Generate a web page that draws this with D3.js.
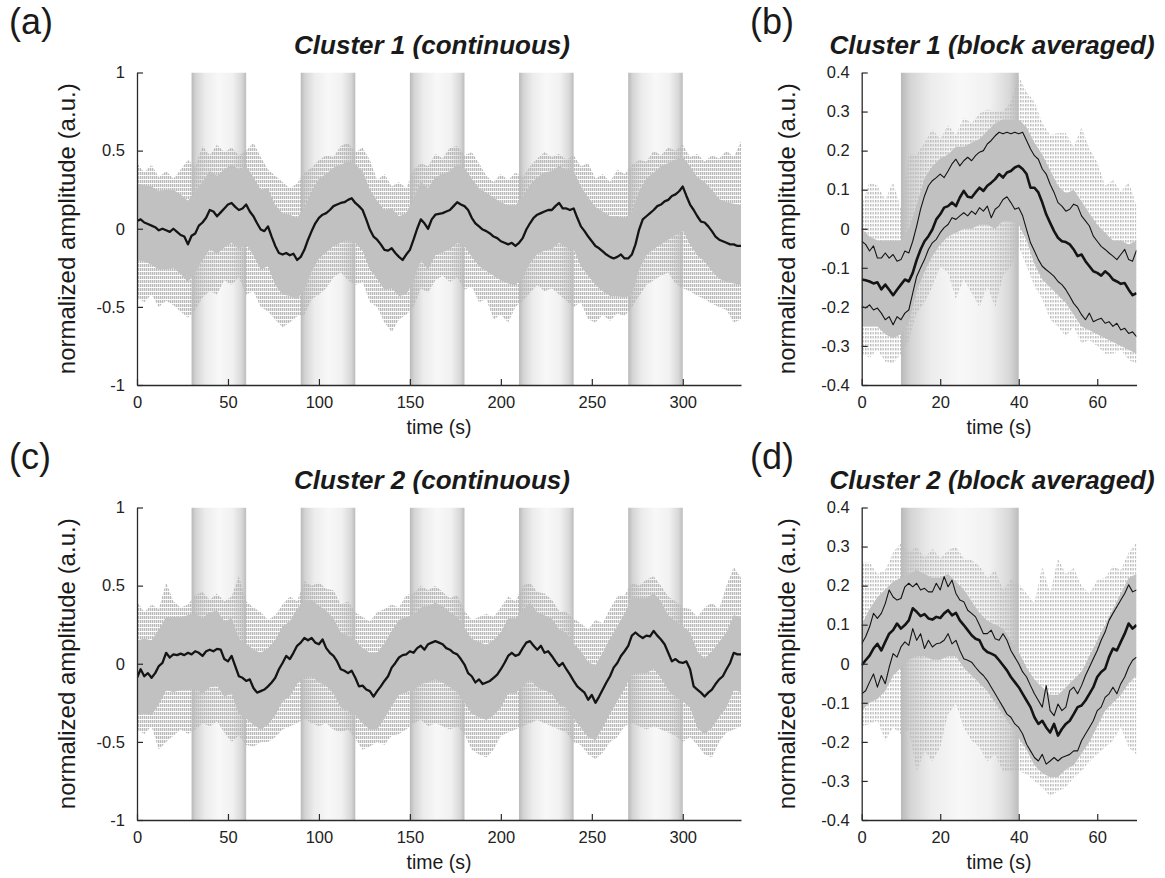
<!DOCTYPE html>
<html>
<head>
<meta charset="utf-8">
<script src="https://cdn.jsdelivr.net/npm/d3@7"></script>
<style>
  body { margin: 0; background: #fff; }
  text { font-family: "Liberation Sans", Arial, Helvetica, sans-serif; }
</style>
</head>
<body>
<div id="chart"></div>
<script>
// ---- continuous panels: mean trace every 2 s, envelopes of the single traces every 4 s ----
const meanA = [
  0.05, 0.06, 0.04, 0.03, 0.02, 0.01, -0.01, 0.0, -0.01, -0.02,
  0.0, -0.02, -0.04, -0.05, -0.1, -0.045, -0.03, 0.02, 0.04, 0.07,
  0.12, 0.11, 0.08, 0.105, 0.13, 0.155, 0.165, 0.14, 0.12, 0.13,
  0.155, 0.11, 0.08, 0.035, -0.005, -0.015, 0.015, -0.05, -0.11, -0.155,
  -0.165, -0.155, -0.17, -0.16, -0.2, -0.18, -0.135, -0.07, -0.015, 0.035,
  0.07, 0.09, 0.1, 0.12, 0.145, 0.155, 0.165, 0.17, 0.185, 0.195,
  0.165, 0.145, 0.12, 0.06, -0.005, -0.05, -0.07, -0.1, -0.135, -0.14,
  -0.125, -0.155, -0.18, -0.2, -0.165, -0.135, -0.07, 0.0, 0.06, 0.035,
  0.0, 0.06, 0.09, 0.095, 0.1, 0.11, 0.12, 0.145, 0.17, 0.155,
  0.145, 0.12, 0.07, 0.035, 0.015, -0.005, -0.015, -0.03, -0.05, -0.06,
  -0.08, -0.09, -0.1, -0.09, -0.11, -0.09, -0.06, -0.005, 0.035, 0.07,
  0.09, 0.1, 0.11, 0.12, 0.12, 0.145, 0.165, 0.13, 0.13, 0.12,
  0.13, 0.07, 0.015, -0.015, -0.05, -0.08, -0.11, -0.125, -0.145, -0.165,
  -0.18, -0.19, -0.18, -0.165, -0.19, -0.19, -0.165, -0.1, -0.005, 0.06,
  0.08, 0.1, 0.12, 0.145, 0.155, 0.175, 0.185, 0.21, 0.22, 0.24,
  0.27, 0.21, 0.155, 0.12, 0.08, 0.045, 0.04, 0.015, -0.015, -0.05,
  -0.07, -0.08, -0.09, -0.1, -0.1, -0.11, -0.11
];
const denseHiA = [
  0.29, 0.28, 0.27, 0.24, 0.25, 0.25, 0.22, 0.18, 0.24, 0.30,
  0.37, 0.34, 0.38, 0.41, 0.38, 0.40, 0.33, 0.25, 0.26, 0.15,
  0.10, 0.09, 0.07, 0.13, 0.24, 0.32, 0.35, 0.39, 0.41, 0.43,
  0.41, 0.37, 0.25, 0.18, 0.12, 0.13, 0.08, 0.10, 0.19, 0.30,
  0.26, 0.33, 0.35, 0.37, 0.41, 0.39, 0.32, 0.26, 0.23, 0.20,
  0.17, 0.15, 0.15, 0.20, 0.28, 0.33, 0.36, 0.37, 0.40, 0.38,
  0.37, 0.27, 0.20, 0.14, 0.11, 0.08, 0.08, 0.07, 0.10, 0.24,
  0.32, 0.36, 0.40, 0.42, 0.44, 0.46, 0.40, 0.33, 0.30, 0.25,
  0.19, 0.17, 0.16, 0.15
];
const denseLoA = [
  -0.20, -0.21, -0.23, -0.26, -0.26, -0.25, -0.29, -0.34, -0.28, -0.20,
  -0.13, -0.16, -0.12, -0.09, -0.13, -0.10, -0.17, -0.26, -0.24, -0.36,
  -0.42, -0.43, -0.45, -0.39, -0.27, -0.19, -0.15, -0.11, -0.09, -0.07,
  -0.09, -0.14, -0.26, -0.32, -0.39, -0.38, -0.43, -0.42, -0.33, -0.20,
  -0.26, -0.17, -0.15, -0.13, -0.09, -0.11, -0.18, -0.24, -0.27, -0.30,
  -0.33, -0.35, -0.36, -0.31, -0.22, -0.16, -0.14, -0.13, -0.09, -0.12,
  -0.13, -0.24, -0.30, -0.36, -0.40, -0.43, -0.43, -0.44, -0.42, -0.26,
  -0.17, -0.13, -0.10, -0.07, -0.04, -0.01, -0.10, -0.17, -0.21, -0.27,
  -0.32, -0.34, -0.35, -0.36
];
const spikeHiA = [
  0.42, 0.36, 0.41, 0.33, 0.37, 0.32, 0.38, 0.44, 0.40, 0.53,
  0.47, 0.54, 0.49, 0.52, 0.47, 0.50, 0.55, 0.46, 0.38, 0.34,
  0.30, 0.26, 0.29, 0.36, 0.39, 0.44, 0.47, 0.46, 0.53, 0.55,
  0.49, 0.52, 0.44, 0.31, 0.35, 0.27, 0.30, 0.26, 0.38, 0.42,
  0.40, 0.48, 0.45, 0.52, 0.53, 0.47, 0.49, 0.42, 0.34, 0.30,
  0.35, 0.31, 0.36, 0.33, 0.40, 0.45, 0.49, 0.46, 0.48, 0.44,
  0.47, 0.40, 0.42, 0.32, 0.35, 0.30, 0.38, 0.35, 0.41, 0.44,
  0.43, 0.50, 0.47, 0.52, 0.50, 0.54, 0.46, 0.48, 0.43, 0.47,
  0.45, 0.50, 0.46, 0.56
];
const spikeLoA = [
  -0.44, -0.47, -0.42, -0.50, -0.46, -0.49, -0.53, -0.57, -0.52, -0.44,
  -0.40, -0.42, -0.33, -0.36, -0.31, -0.42, -0.40, -0.50, -0.53, -0.58,
  -0.63, -0.60, -0.56, -0.55, -0.45, -0.42, -0.38, -0.31, -0.28, -0.33,
  -0.36, -0.34, -0.47, -0.50, -0.60, -0.66, -0.58, -0.55, -0.50, -0.38,
  -0.41, -0.33, -0.30, -0.34, -0.31, -0.39, -0.37, -0.47, -0.45, -0.58,
  -0.55, -0.60, -0.50, -0.46, -0.41, -0.36, -0.40, -0.38, -0.42, -0.46,
  -0.50, -0.47, -0.58, -0.60, -0.55, -0.59, -0.54, -0.56, -0.50, -0.43,
  -0.36, -0.33, -0.30, -0.28, -0.35, -0.38, -0.40, -0.43, -0.45, -0.48,
  -0.50, -0.52, -0.60, -0.58
];

const meanC = [
  -0.09, -0.035, -0.08, -0.06, -0.09, -0.06, -0.015, 0.005, 0.07, 0.04,
  0.06, 0.055, 0.065, 0.055, 0.07, 0.06, 0.08, 0.07, 0.05, 0.08,
  0.09, 0.08, 0.095, 0.09, 0.03, 0.015, 0.05, -0.015, -0.08, -0.09,
  -0.11, -0.1, -0.155, -0.185, -0.175, -0.165, -0.145, -0.12, -0.09, -0.035,
  0.005, 0.05, 0.03, 0.07, 0.115, 0.135, 0.165, 0.15, 0.165, 0.135,
  0.125, 0.155, 0.1, 0.07, 0.05, 0.015, -0.035, -0.045, -0.06, -0.045,
  -0.09, -0.145, -0.14, -0.165, -0.175, -0.21, -0.175, -0.145, -0.11, -0.08,
  -0.025, 0.005, 0.04, 0.055, 0.06, 0.08, 0.07, 0.1, 0.115, 0.09,
  0.125, 0.135, 0.145, 0.135, 0.125, 0.1, 0.09, 0.07, 0.06, 0.03,
  -0.005, -0.06, -0.08, -0.12, -0.1, -0.13, -0.12, -0.11, -0.09, -0.07,
  -0.035, 0.005, 0.05, 0.07, 0.05, 0.06, 0.1, 0.135, 0.145, 0.115,
  0.09, 0.115, 0.07, 0.08, 0.05, 0.015, -0.015, 0.005, -0.035, -0.07,
  -0.11, -0.145, -0.165, -0.185, -0.23, -0.2, -0.25, -0.21, -0.165, -0.12,
  -0.08, -0.025, 0.005, 0.05, 0.08, 0.115, 0.18, 0.2, 0.18, 0.165,
  0.18, 0.175, 0.21, 0.18, 0.155, 0.125, 0.07, 0.015, 0.03, 0.01,
  0.005, 0.015, -0.035, -0.145, -0.165, -0.185, -0.21, -0.185, -0.165, -0.13,
  -0.1, -0.08, -0.035, 0.005, 0.07, 0.06, 0.06
];
const denseHiC = [
  0.15, 0.16, 0.15, 0.22, 0.30, 0.30, 0.30, 0.31, 0.32, 0.29,
  0.33, 0.34, 0.27, 0.29, 0.16, 0.13, 0.09, 0.07, 0.10, 0.15,
  0.24, 0.27, 0.35, 0.40, 0.41, 0.37, 0.34, 0.29, 0.20, 0.18,
  0.15, 0.10, 0.07, 0.07, 0.13, 0.21, 0.28, 0.30, 0.31, 0.36,
  0.37, 0.39, 0.37, 0.33, 0.30, 0.23, 0.16, 0.14, 0.12, 0.15,
  0.20, 0.29, 0.29, 0.34, 0.39, 0.33, 0.31, 0.29, 0.22, 0.20,
  0.13, 0.08, 0.01, -0.01, 0.07, 0.16, 0.24, 0.32, 0.42, 0.42,
  0.42, 0.45, 0.40, 0.31, 0.27, 0.24, 0.20, 0.08, 0.03, 0.08,
  0.14, 0.20, 0.31, 0.30
];
const denseLoC = [
  -0.33, -0.32, -0.33, -0.26, -0.17, -0.18, -0.17, -0.17, -0.16, -0.19,
  -0.15, -0.14, -0.21, -0.19, -0.32, -0.35, -0.39, -0.42, -0.39, -0.33,
  -0.24, -0.21, -0.13, -0.08, -0.08, -0.12, -0.14, -0.19, -0.28, -0.30,
  -0.33, -0.38, -0.42, -0.42, -0.35, -0.27, -0.20, -0.18, -0.17, -0.13,
  -0.12, -0.10, -0.12, -0.15, -0.18, -0.25, -0.32, -0.34, -0.36, -0.33,
  -0.28, -0.19, -0.19, -0.14, -0.10, -0.15, -0.17, -0.19, -0.26, -0.28,
  -0.35, -0.41, -0.47, -0.49, -0.41, -0.32, -0.24, -0.16, -0.06, -0.06,
  -0.06, -0.03, -0.09, -0.17, -0.21, -0.24, -0.28, -0.41, -0.45, -0.41,
  -0.34, -0.28, -0.17, -0.18
];
const spikeHiC = [
  0.40, 0.33, 0.38, 0.35, 0.52, 0.40, 0.36, 0.38, 0.44, 0.46,
  0.41, 0.45, 0.40, 0.43, 0.56, 0.40, 0.36, 0.33, 0.28, 0.31,
  0.38, 0.43, 0.40, 0.53, 0.50, 0.52, 0.48, 0.47, 0.38, 0.40,
  0.33, 0.30, 0.27, 0.33, 0.35, 0.38, 0.36, 0.44, 0.45, 0.50,
  0.47, 0.50, 0.46, 0.42, 0.44, 0.34, 0.28, 0.30, 0.32, 0.30,
  0.36, 0.43, 0.40, 0.50, 0.52, 0.46, 0.45, 0.41, 0.34, 0.33,
  0.29, 0.26, 0.22, 0.28, 0.26, 0.35, 0.43, 0.44, 0.52, 0.50,
  0.54, 0.56, 0.50, 0.43, 0.40, 0.36, 0.35, 0.30, 0.36, 0.39,
  0.35, 0.50, 0.62, 0.55
];
const spikeLoC = [
  -0.42, -0.45, -0.40, -0.55, -0.50, -0.46, -0.42, -0.45, -0.42, -0.38,
  -0.40, -0.37, -0.44, -0.50, -0.46, -0.52, -0.53, -0.50, -0.50, -0.47,
  -0.42, -0.40, -0.38, -0.35, -0.38, -0.40, -0.38, -0.42, -0.44, -0.42,
  -0.48, -0.55, -0.53, -0.50, -0.52, -0.46, -0.45, -0.42, -0.38, -0.36,
  -0.40, -0.38, -0.40, -0.42, -0.40, -0.45, -0.55, -0.58, -0.60, -0.55,
  -0.46, -0.44, -0.42, -0.40, -0.38, -0.36, -0.38, -0.40, -0.42, -0.44,
  -0.50, -0.52, -0.58, -0.61, -0.57, -0.50, -0.47, -0.40, -0.38, -0.40,
  -0.42, -0.40, -0.42, -0.44, -0.46, -0.50, -0.47, -0.52, -0.58, -0.60,
  -0.50, -0.44, -0.42, -0.40
];

// ---- block averaged panels: mean and +/- lines every 1 s, envelopes every 2 s ----
const meanB = [
  -0.130, -0.132, -0.135, -0.140, -0.137, -0.155, -0.143, -0.156, -0.170, -0.156,
  -0.143, -0.130, -0.135, -0.113, -0.080, -0.053, -0.032, -0.019, -0.002, 0.024,
  0.037, 0.054, 0.058, 0.067, 0.058, 0.080, 0.097, 0.082, 0.080, 0.093,
  0.105, 0.097, 0.110, 0.118, 0.127, 0.140, 0.131, 0.144, 0.148, 0.157,
  0.161, 0.153, 0.140, 0.105, 0.105, 0.093, 0.067, 0.037, 0.015, -0.006,
  -0.023, -0.032, -0.034, -0.040, -0.053, -0.070, -0.066, -0.083, -0.096, -0.109,
  -0.113, -0.120, -0.109, -0.117, -0.130, -0.135, -0.141, -0.139, -0.156, -0.170,
  -0.165
];
const upperB = [
  -0.032, -0.040, -0.057, -0.044, -0.075, -0.075, -0.062, -0.075, -0.066, -0.083,
  -0.079, -0.057, -0.062, -0.032, 0.007, 0.050, 0.084, 0.110, 0.123, 0.131,
  0.140, 0.131, 0.148, 0.166, 0.178, 0.161, 0.174, 0.183, 0.174, 0.187,
  0.196, 0.200, 0.217, 0.226, 0.238, 0.247, 0.243, 0.247, 0.243, 0.247,
  0.243, 0.247, 0.226, 0.204, 0.187, 0.178, 0.153, 0.140, 0.114, 0.093,
  0.067, 0.058, 0.045, 0.050, 0.063, 0.058, 0.033, 0.020, 0.007, -0.019,
  -0.032, -0.045, -0.053, -0.062, -0.070, -0.079, -0.066, -0.053, -0.079, -0.083,
  -0.055
];
const lowerB = [
  -0.199, -0.203, -0.195, -0.208, -0.203, -0.216, -0.233, -0.225, -0.246, -0.225,
  -0.233, -0.216, -0.208, -0.165, -0.122, -0.100, -0.079, -0.053, -0.036, -0.027,
  -0.010, 0.003, 0.011, 0.028, 0.024, 0.033, 0.041, 0.033, 0.045, 0.037,
  0.054, 0.045, 0.058, 0.028, 0.050, 0.058, 0.075, 0.082, 0.067, 0.050,
  0.054, 0.033, -0.002, -0.036, -0.057, -0.079, -0.096, -0.105, -0.113, -0.122,
  -0.135, -0.143, -0.156, -0.173, -0.191, -0.203, -0.220, -0.233, -0.216, -0.238,
  -0.233, -0.229, -0.242, -0.238, -0.250, -0.242, -0.259, -0.255, -0.268, -0.264,
  -0.276
];
const denseHiB = [
  0.0, -0.02, -0.03, -0.03, -0.03, -0.03, 0.0, 0.06, 0.13, 0.16,
  0.18, 0.19, 0.21, 0.21, 0.22, 0.23, 0.25, 0.27, 0.28, 0.28,
  0.28, 0.26, 0.22, 0.19, 0.15, 0.11, 0.09, 0.10, 0.07, 0.04,
  0.01, -0.01, -0.03, -0.03, -0.04, -0.03
];
const denseLoB = [
  -0.25, -0.25, -0.25, -0.27, -0.28, -0.27, -0.24, -0.16, -0.11, -0.07,
  -0.04, -0.02, -0.01, 0.0, 0.0, 0.01, 0.01, 0.0, 0.02, 0.02,
  0.01, -0.03, -0.09, -0.13, -0.15, -0.17, -0.19, -0.22, -0.25, -0.26,
  -0.27, -0.28, -0.29, -0.30, -0.31, -0.32
];
const spikeHiB = [
  0.058, 0.12, 0.11, 0.075, 0.12, 0.05, 0.19, 0.19, 0.22, 0.255,
  0.23, 0.265, 0.24, 0.285, 0.27, 0.295, 0.305, 0.30, 0.30, 0.325,
  0.39, 0.35, 0.325, 0.27, 0.24, 0.245, 0.245, 0.21, 0.26, 0.205,
  0.17, 0.11, 0.125, 0.095, 0.12, 0.06
];
const spikeLoB = [
  -0.32, -0.33, -0.31, -0.34, -0.345, -0.32, -0.285, -0.215, -0.19, -0.148,
  -0.096, -0.113, -0.18, -0.13, -0.165, -0.20, -0.148, -0.20, -0.12, -0.096,
  -0.045, -0.096, -0.148, -0.18, -0.233, -0.25, -0.276, -0.25, -0.293, -0.285,
  -0.30, -0.32, -0.32, -0.31, -0.336, -0.345
];

const meanD = [
  -0.004, 0.009, 0.021, 0.039, 0.051, 0.034, 0.056, 0.077, 0.086, 0.103,
  0.090, 0.099, 0.111, 0.142, 0.133, 0.122, 0.127, 0.116, 0.113, 0.120,
  0.117, 0.129, 0.137, 0.124, 0.130, 0.111, 0.099, 0.086, 0.073, 0.064,
  0.060, 0.039, 0.030, 0.026, 0.021, 0.009, -0.004, -0.017, -0.034, -0.047,
  -0.060, -0.077, -0.094, -0.111, -0.137, -0.154, -0.146, -0.163, -0.176, -0.154,
  -0.184, -0.167, -0.154, -0.146, -0.129, -0.111, -0.107, -0.094, -0.077, -0.060,
  -0.034, -0.021, -0.013, 0.017, 0.039, 0.034, 0.056, 0.077, 0.103, 0.090,
  0.099
];
const upperD = [
  0.051, 0.069, 0.094, 0.129, 0.116, 0.129, 0.154, 0.189, 0.171, 0.163,
  0.167, 0.197, 0.206, 0.197, 0.206, 0.189, 0.193, 0.184, 0.184, 0.206,
  0.189, 0.223, 0.197, 0.214, 0.180, 0.163, 0.159, 0.137, 0.129, 0.120,
  0.099, 0.077, 0.077, 0.086, 0.064, 0.060, 0.077, 0.060, 0.034, 0.017,
  0.000, -0.021, -0.034, -0.056, -0.077, -0.094, -0.111, -0.056, -0.120, -0.133,
  -0.103, -0.120, -0.111, -0.069, -0.060, -0.077, -0.056, -0.030, -0.009, 0.013,
  0.034, 0.060, 0.081, 0.111, 0.129, 0.146, 0.163, 0.180, 0.202, 0.184,
  0.189
];
const lowerD = [
  -0.077, -0.069, -0.047, -0.026, -0.060, -0.030, -0.051, -0.009, 0.026, 0.017,
  0.043, 0.056, 0.047, 0.090, 0.060, 0.077, 0.039, 0.060, 0.043, 0.051,
  0.053, 0.060, 0.077, 0.051, 0.060, 0.034, 0.013, 0.009, 0.004, -0.009,
  -0.021, -0.030, -0.043, -0.060, -0.077, -0.094, -0.111, -0.129, -0.137, -0.154,
  -0.163, -0.180, -0.206, -0.223, -0.240, -0.249, -0.232, -0.257, -0.249, -0.240,
  -0.249, -0.240, -0.236, -0.232, -0.223, -0.223, -0.197, -0.180, -0.163, -0.146,
  -0.120, -0.111, -0.086, -0.077, -0.060, -0.077, -0.051, -0.034, -0.009, 0.009,
  0.017
];
const denseHiD = [
  0.10, 0.14, 0.17, 0.19, 0.21, 0.22, 0.23, 0.24, 0.23, 0.22,
  0.22, 0.23, 0.21, 0.19, 0.16, 0.13, 0.11, 0.10, 0.09, 0.06,
  0.03, -0.01, -0.04, -0.06, -0.08, -0.08, -0.06, -0.04, -0.02, 0.02,
  0.06, 0.10, 0.14, 0.18, 0.22, 0.23
];
const denseLoD = [
  -0.12, -0.10, -0.09, -0.07, -0.03, -0.01, 0.01, 0.02, 0.02, 0.01,
  0.01, 0.02, 0.02, -0.01, -0.03, -0.05, -0.07, -0.10, -0.13, -0.16,
  -0.19, -0.22, -0.26, -0.28, -0.29, -0.29, -0.27, -0.26, -0.23, -0.20,
  -0.16, -0.12, -0.10, -0.08, -0.05, -0.03
];
const spikeHiD = [
  0.26, 0.26, 0.23, 0.24, 0.285, 0.31, 0.285, 0.30, 0.27, 0.295,
  0.27, 0.29, 0.30, 0.27, 0.265, 0.25, 0.22, 0.24, 0.19, 0.215,
  0.205, 0.18, 0.155, 0.25, 0.18, 0.27, 0.23, 0.245, 0.20, 0.18,
  0.215, 0.22, 0.25, 0.24, 0.285, 0.31
];
const spikeLoD = [
  -0.16, -0.155, -0.146, -0.197, -0.163, -0.18, -0.17, -0.275, -0.223, -0.25,
  -0.214, -0.129, -0.103, -0.163, -0.197, -0.214, -0.25, -0.232, -0.275, -0.275,
  -0.275, -0.283, -0.30, -0.317, -0.34, -0.326, -0.317, -0.292, -0.275, -0.25,
  -0.232, -0.214, -0.197, -0.163, -0.214, -0.232
];

// ---- axes, ticks, stimulation blocks ----
const contTicksX = [0, 50, 100, 150, 200, 250, 300];
const contTicksY = [-1, -0.5, 0, 0.5, 1];
const contTickLabelsY = ["-1", "-0.5", "0", "0.5", "1"];
const avgTicksX = [0, 20, 40, 60];
const avgTicksY = [-0.4, -0.3, -0.2, -0.1, 0, 0.1, 0.2, 0.3, 0.4];
const avgTickLabelsY = ["-0.4", "-0.3", "-0.2", "-0.1", "0", "0.1", "0.2", "0.3", "0.4"];
const contBlocks = [[30, 60], [90, 120], [150, 180], [210, 240], [270, 300]];
const avgBlocks = [[10, 40]];

const svg = d3.select("#chart").append("svg")
    .attr("width", 1165)
    .attr("height", 878);

const defs = svg.append("defs");
const grad = defs.append("linearGradient")
    .attr("id", "blockGrad")
    .attr("x1", "0%").attr("x2", "100%").attr("y1", "0%").attr("y2", "0%");
[["0%", "#b9b9b9"], ["8%", "#d4d4d4"], ["25%", "#ececec"], ["50%", "#f8f8f8"],
 ["75%", "#f1f1f1"], ["92%", "#d8d8d8"], ["100%", "#bcbcbc"]].forEach(s => {
    grad.append("stop").attr("offset", s[0]).attr("stop-color", s[1]);
});

// dotted vertical streaks standing in for the individual dotted traces
function streakPattern(id, step, dash, colour) {
    const pat = defs.append("pattern")
        .attr("id", id)
        .attr("patternUnits", "userSpaceOnUse")
        .attr("width", step)
        .attr("height", 8);
    pat.append("line")
        .attr("x1", 0.7).attr("x2", 0.7).attr("y1", 0).attr("y2", 8)
        .style("stroke", colour)
        .style("stroke-width", 1.4)
        .style("stroke-dasharray", dash);
}
streakPattern("streakCont", 2, "3,1", "#bababa");
streakPattern("streakAvg", 2.5, "2.5,1.5", "#bdbdbd");

let clipId = 0;

function drawPanel(p) {
    const x = d3.scaleLinear().domain(p.xDomain).range([p.left, p.right]);
    const y = d3.scaleLinear().domain(p.yDomain).range([p.bottom, p.top]);
    const g = svg.append("g");

    const cid = "clip" + (clipId++);
    defs.append("clipPath").attr("id", cid)
      .append("rect")
        .attr("x", p.left).attr("y", p.top)
        .attr("width", p.right - p.left).attr("height", p.bottom - p.top);

    const plot = g.append("g").attr("clip-path", `url(#${cid})`);

    // stimulation blocks
    plot.selectAll(".block")
        .data(p.blocks)
        .enter().append("rect")
          .attr("class", "block")
          .attr("x", d => x(d[0]))
          .attr("y", p.top)
          .attr("width", d => x(d[1]) - x(d[0]))
          .attr("height", p.bottom - p.top)
          .style("fill", "url(#blockGrad)");

    // cloud of single traces: outer spikes then dense core
    const env = p.envT.map((t, i) => ({
        t: t, sHi: p.spikeHi[i], sLo: p.spikeLo[i], dHi: p.denseHi[i], dLo: p.denseLo[i]
    }));
    plot.append("path")
        .datum(env)
        .attr("d", d3.area().x(d => x(d.t)).y0(d => y(d.sLo)).y1(d => y(d.sHi)))
        .style("fill", `url(#${p.streak})`);
    plot.append("path")
        .datum(env)
        .attr("d", d3.area().x(d => x(d.t)).y0(d => y(d.dLo)).y1(d => y(d.dHi)))
        .style("fill", "#c1c1c1");

    // average lines
    p.lines.forEach(l => {
        plot.append("path")
            .datum(l.values.map((v, i) => ({ t: l.t[i], v: v })))
            .attr("d", d3.line().x(d => x(d.t)).y(d => y(d.v)))
            .style("fill", "none")
            .style("stroke", "#141414")
            .style("stroke-width", l.width)
            .style("stroke-linejoin", "round");
    });

    // axes
    const yAxis = g.append("g")
        .attr("transform", `translate(${p.left},0)`)
        .call(d3.axisLeft(y)
            .tickValues(p.yTicks)
            .tickSize(-6)
            .tickSizeOuter(0)
            .tickPadding(12)
            .tickFormat((d, i) => p.yTickLabels[i]));
    const xAxis = g.append("g")
        .attr("transform", `translate(0,${p.bottom})`)
        .call(d3.axisBottom(x)
            .tickValues(p.xTicks)
            .tickSize(-6)
            .tickSizeOuter(0)
            .tickPadding(11));
    [xAxis, yAxis].forEach(a => {
        a.select(".domain").style("stroke", "#2a2a2a").style("stroke-width", 1.3);
        a.selectAll(".tick line").style("stroke", "#2a2a2a").style("stroke-width", 1.2);
        a.selectAll(".tick text")
            .style("font-size", "16.5px")
            .style("fill", "#222")
            .style("font-family", "'Liberation Sans', Arial, sans-serif");
    });

    // x axis title
    g.append("text")
        .attr("x", (p.left + p.right) / 2)
        .attr("y", p.bottom + 49)
        .style("text-anchor", "middle")
        .style("font-size", "19.5px")
        .style("fill", "#1a1a1a")
        .text("time (s)");

    // y axis title
    g.append("text")
        .attr("transform", `translate(${p.left - p.yLabelGap},${(p.top + p.bottom) / 2}) rotate(-90)`)
        .style("text-anchor", "middle")
        .style("font-size", "24px")
        .style("fill", "#1a1a1a")
        .text("normalized amplitude (a.u.)");

    // title
    g.append("text")
        .attr("x", (p.left + p.right) / 2 - 7)
        .attr("y", p.titleY)
        .style("text-anchor", "middle")
        .style("font-size", "26px")
        .style("font-weight", "bold")
        .style("font-style", "italic")
        .style("fill", "#1a1a1a")
        .text(p.title);

    // panel letter
    g.append("text")
        .attr("x", p.letterX)
        .attr("y", p.letterY)
        .style("font-size", "36px")
        .style("fill", "#1a1a1a")
        .text(p.letter);
}

const tMean = d3.range(0, 333, 2);
const tEnv = d3.range(0, 333, 4);
const tAvg = d3.range(0, 71, 1);
const tAvgEnv = d3.range(0, 71, 2);

const contLeft = 137, contRight = 741, avgLeft = 861.7, avgRight = 1136.5;

drawPanel({
    left: contLeft, right: contRight, top: 72.5, bottom: 385,
    xDomain: [0, 332], yDomain: [-1, 1],
    xTicks: contTicksX, yTicks: contTicksY, yTickLabels: contTickLabelsY,
    blocks: contBlocks, streak: "streakCont",
    envT: tEnv, spikeHi: spikeHiA, spikeLo: spikeLoA, denseHi: denseHiA, denseLo: denseLoA,
    lines: [{ t: tMean, values: meanA, width: 2.3 }],
    yLabelGap: 62, title: "Cluster 1 (continuous)", titleY: 54,
    letter: "(a)", letterX: 9, letterY: 34
});
drawPanel({
    left: avgLeft, right: avgRight, top: 72.5, bottom: 385,
    xDomain: [0, 70], yDomain: [-0.4, 0.4],
    xTicks: avgTicksX, yTicks: avgTicksY, yTickLabels: avgTickLabelsY,
    blocks: avgBlocks, streak: "streakAvg",
    envT: tAvgEnv, spikeHi: spikeHiB, spikeLo: spikeLoB, denseHi: denseHiB, denseLo: denseLoB,
    lines: [
        { t: tAvg, values: upperB, width: 1.1 },
        { t: tAvg, values: lowerB, width: 1.1 },
        { t: tAvg, values: meanB, width: 2.6 }
    ],
    yLabelGap: 67, title: "Cluster 1 (block averaged)", titleY: 54,
    letter: "(b)", letterX: 750, letterY: 34
});
drawPanel({
    left: contLeft, right: contRight, top: 507.5, bottom: 820,
    xDomain: [0, 332], yDomain: [-1, 1],
    xTicks: contTicksX, yTicks: contTicksY, yTickLabels: contTickLabelsY,
    blocks: contBlocks, streak: "streakCont",
    envT: tEnv, spikeHi: spikeHiC, spikeLo: spikeLoC, denseHi: denseHiC, denseLo: denseLoC,
    lines: [{ t: tMean, values: meanC, width: 2.3 }],
    yLabelGap: 62, title: "Cluster 2 (continuous)", titleY: 489,
    letter: "(c)", letterX: 9, letterY: 469
});
drawPanel({
    left: avgLeft, right: avgRight, top: 507.5, bottom: 820,
    xDomain: [0, 70], yDomain: [-0.4, 0.4],
    xTicks: avgTicksX, yTicks: avgTicksY, yTickLabels: avgTickLabelsY,
    blocks: avgBlocks, streak: "streakAvg",
    envT: tAvgEnv, spikeHi: spikeHiD, spikeLo: spikeLoD, denseHi: denseHiD, denseLo: denseLoD,
    lines: [
        { t: tAvg, values: upperD, width: 1.1 },
        { t: tAvg, values: lowerD, width: 1.1 },
        { t: tAvg, values: meanD, width: 2.6 }
    ],
    yLabelGap: 67, title: "Cluster 2 (block averaged)", titleY: 489,
    letter: "(d)", letterX: 750, letterY: 469
});
</script>
</body>
</html>
